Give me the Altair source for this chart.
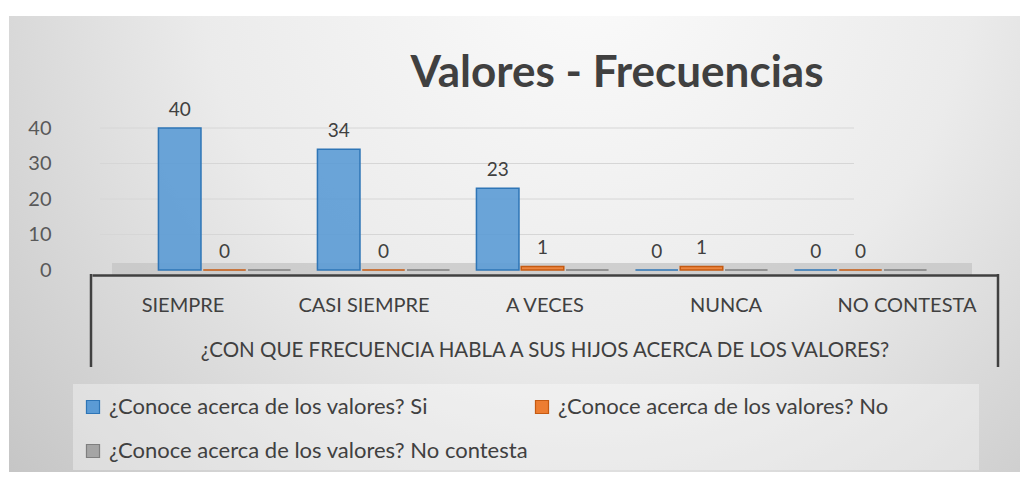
import altair as alt
import pandas as pd

# ---- data ----
categorias = ["SIEMPRE", "CASI SIEMPRE", "A VECES", "NUNCA", "NO CONTESTA"]
series = [
    "¿Conoce acerca de los valores? Si",
    "¿Conoce acerca de los valores? No",
    "¿Conoce acerca de los valores? No contesta",
]
valores_si = [40, 34, 23, 0, 0]
valores_no = [0, 0, 1, 1, 0]
valores_nc = [0, 0, 0, 0, 0]
y_ticks = [0, 10, 20, 30, 40]
titulo = "Valores - Frecuencias"
titulo_eje_x = "¿CON QUE FRECUENCIA HABLA A SUS HIJOS ACERCA DE LOS VALORES?"

colores = ["#5b9bd5", "#ed7d31", "#a5a5a5"]
bordes = ["#2e75b6", "#c55a11", "#7f7f7f"]

FONT = "Lato"
TXT = "#404040"

rows = []
for s, vals, lab in zip(series, [valores_si, valores_no, valores_nc], [True, True, False]):
    for c, v in zip(categorias, vals):
        rows.append({"categoria": c, "serie": s, "valor": v, "etiqueta": lab})
df = pd.DataFrame(rows)
df_cat = pd.DataFrame({"categoria": categorias})
df_grid = pd.DataFrame({"valor": [t for t in y_ticks if t > 0]})
dummy = pd.DataFrame({"k": [0]})

W, H = 905, 142
y_scale = alt.Scale(domain=[0, 40])
y_axis = alt.Axis(
    values=y_ticks, title=None, domain=False, ticks=False, labelPadding=41,
    labelFont=FONT, labelFontSize=20, labelColor="#595959",
    grid=False, zindex=2,
)

# background with radial gradient
bg = alt.Chart(dummy).mark_rect(
    fill=alt.RadialGradient(
        gradient="radial",
        stops=[
            alt.GradientStop(offset=0, color="#fbfbfb"),
            alt.GradientStop(offset=0.45, color="#ebebeb"),
            alt.GradientStop(offset=1, color="#bdbdbd"),
        ],
        x1=0.57, y1=0.22, x2=0.57, y2=0.22, r1=0, r2=0.85,
    )
).encode(x=alt.value(-83), x2=alt.value(929), y=alt.value(-112), y2=alt.value(344))

legend_box = alt.Chart(dummy).mark_rect(fill="#ffffff", opacity=0.35).encode(
    x=alt.value(-19), x2=alt.value(887), y=alt.value(256), y2=alt.value(342)
)

grid = alt.Chart(df_grid).mark_rule(color="#d6d6d6", strokeWidth=1).encode(
    x=alt.value(8), x2=alt.value(762),
    y=alt.Y("valor:Q", scale=y_scale, axis=y_axis),
)

floor = alt.Chart(dummy).mark_rect(fill="#c4c4c4", opacity=0.75).encode(
    x=alt.value(20), x2=alt.value(880), y=alt.value(135), y2=alt.value(147)
)

title_mark = alt.Chart(dummy).mark_text(
    font=FONT, fontSize=44, fontWeight="bold", color=TXT, align="center", baseline="alphabetic"
).encode(x=alt.value(525), y=alt.value(-41), text=alt.value(titulo))

x_bars = alt.X(
    "categoria:N", sort=categorias,
    scale=alt.Scale(domain=categorias, range=[53, 848], paddingInner=0, paddingOuter=0),
    axis=None,
)
x_off = alt.XOffset(
    "serie:N", sort=series,
    scale=alt.Scale(domain=series, paddingInner=0.05, paddingOuter=0.3),
)

bars = alt.Chart(df).mark_bar(strokeWidth=1.5, fillOpacity=0.9).encode(
    x=x_bars,
    xOffset=x_off,
    y=alt.Y("valor:Q", scale=y_scale, axis=y_axis),
    color=alt.Color(
        "serie:N", sort=series,
        scale=alt.Scale(domain=series, range=colores),
        legend=alt.Legend(
            title=None, orient="none", legendX=-20, legendY=258, columns=2,
            columnPadding=2, rowPadding=22, padding=10, symbolType="square",
            symbolSize=170, symbolStrokeWidth=1.2, symbolStrokeColor="#6a6a6a",
            labelFont=FONT, labelFontSize=22,
            labelColor=TXT, labelLimit=0, labelOffset=5, direction="horizontal",
            zindex=2,
        ),
    ),
    stroke=alt.Stroke("serie:N", sort=series, scale=alt.Scale(domain=series, range=bordes), legend=None),
)

labels = alt.Chart(df).transform_filter("datum.etiqueta").mark_text(
    font=FONT, fontSize=19, color=TXT, baseline="middle", dy=-18
).encode(
    x=x_bars,
    xOffset=x_off,
    y=alt.Y("valor:Q", scale=y_scale, axis=y_axis),
    text=alt.Text("valor:Q"),
)

x_axis_layer = alt.Chart(df_cat).mark_point(opacity=0, size=0).encode(
    x=alt.X(
        "categoria:N", sort=categorias,
        scale=alt.Scale(domain=categorias, paddingInner=0, paddingOuter=0),
        axis=alt.Axis(
            title=titulo_eje_x, labelAngle=0, ticks=False, offset=5,
            domainColor=TXT, domainWidth=2.5, labelPadding=20,
            labelFont=FONT, labelFontSize=20, labelColor=TXT,
            titleFont=FONT, titleFontSize=20.5, titleFontWeight="normal",
            titleColor=TXT, titlePadding=25, zindex=2,
        ),
    ),
    y=alt.value(0),
)

side_l = alt.Chart(dummy).mark_rule(color=TXT, strokeWidth=2.5).encode(
    x=alt.value(-1), y=alt.value(146), y2=alt.value(239)
)
side_r = alt.Chart(dummy).mark_rule(color=TXT, strokeWidth=2.5).encode(
    x=alt.value(906), y=alt.value(146), y2=alt.value(239)
)

chart = alt.layer(
    bg, legend_box, grid, floor, bars, labels, x_axis_layer, side_l, side_r, title_mark
).resolve_scale(x="independent").properties(
    width=W, height=H,
    autosize=alt.AutoSizeParams(type="none"),
    padding={"left": 84, "top": 120, "right": 23, "bottom": 202},
    background="white",
).configure_view(stroke=None)

chart.save("out.html", embed_options={"renderer": "svg", "actions": False})
